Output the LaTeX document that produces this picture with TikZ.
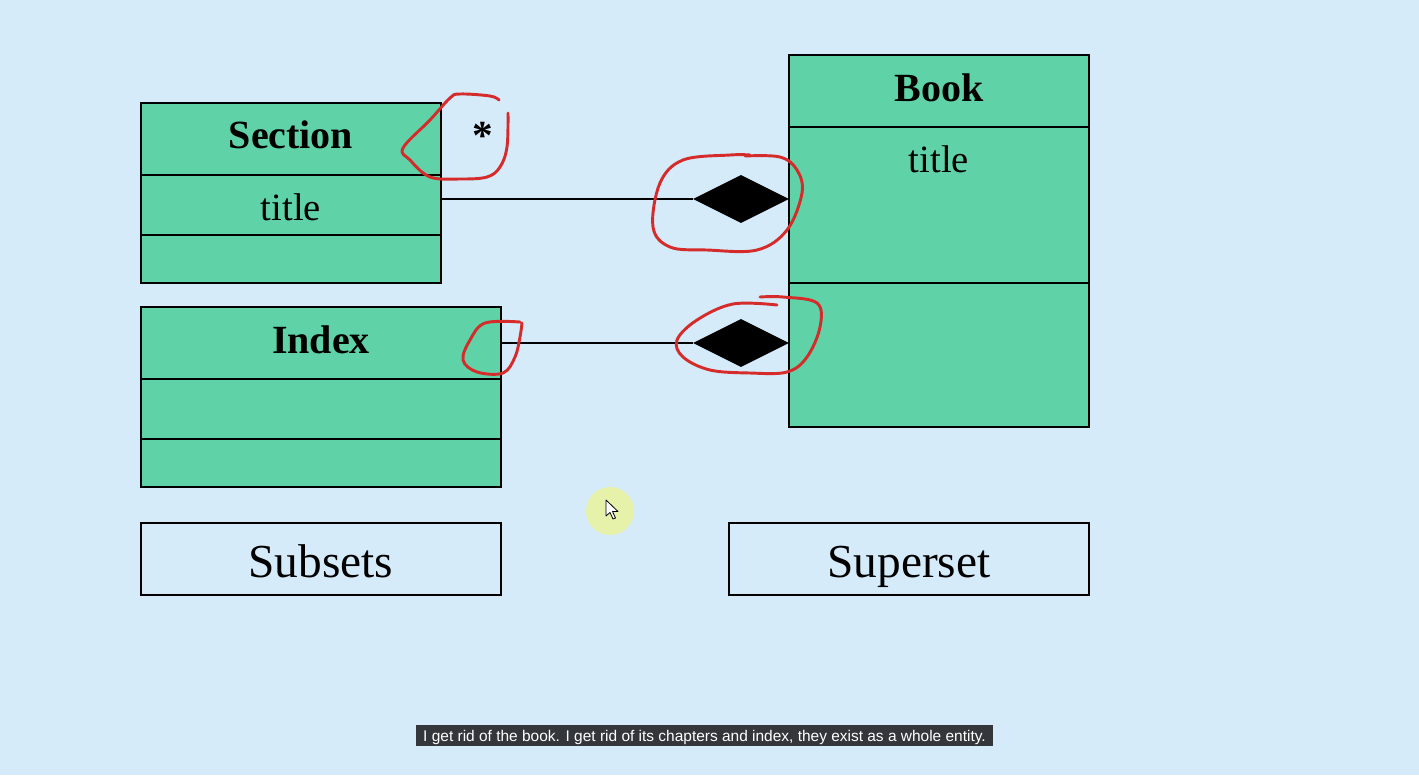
\documentclass[tikz,border=0pt]{standalone}
\usepackage{fontspec}
\setmainfont{Liberation Serif}
\newfontfamily\capfont{Liberation Sans}
\usetikzlibrary{shapes.geometric}
\definecolor{bgblue}{RGB}{214,235,250}
\definecolor{umlgreen}{RGB}{95,211,167}
\definecolor{penred}{RGB}{213,43,43}
\definecolor{capbg}{RGB}{51,54,59}
\definecolor{halo}{RGB}{230,242,170}
\tikzset{
  cls/.style={draw=black, line width=1.5pt, fill=umlgreen, inner sep=0pt},
  plainbox/.style={draw=black, line width=1.5pt, inner sep=0pt},
  divider/.style={draw=black, line width=1.5pt},
  clsname/.style={font=\bfseries\fontsize{30}{36}\selectfont, anchor=base, inner sep=0pt},
  attr/.style={font=\fontsize{29}{34}\selectfont, anchor=base, inner sep=0pt},
  bigtext/.style={font=\fontsize{35.5}{42}\selectfont, anchor=base, inner sep=0pt},
  agg/.style={shape=diamond, aspect=2, fill=black, draw=none, inner sep=0pt, minimum width=72pt, minimum height=36pt},
  assoc/.style={draw=black, line width=1.5pt},
  ink/.style={draw=penred, line width=2.2pt, line cap=round, line join=round},
}
\begin{document}
\begin{tikzpicture}[x=0.75pt, y=-0.75pt]
\useasboundingbox (0,0) rectangle (1419,775);
\fill[bgblue] (0,0) rectangle (1419,775);

% class boxes
\node[cls, minimum width=225pt, minimum height=135pt] (section) at (291,193) {};
\draw[divider] (141,175) -- (441,175);
\draw[divider] (141,235) -- (441,235);
\node[clsname] (sectionname) at (291,148) {Section};
\node[attr] (sectiontitle) at (291,220) {title};

\node[cls, minimum width=270pt, minimum height=135pt] (index) at (321,397) {};
\draw[divider] (141,379) -- (501,379);
\draw[divider] (141,439) -- (501,439);
\node[clsname] (indexname) at (321,353) {Index};

\node[cls, minimum width=225pt, minimum height=279pt] (book) at (939,241) {};
\draw[divider] (789,127) -- (1089,127);
\draw[divider] (789,283) -- (1089,283);
\node[clsname] (bookname) at (939,101) {Book};
\node[attr] (booktitle) at (939,172) {title};

% labels
\node[plainbox, minimum width=270pt, minimum height=54pt] (subsets) at (321,559) {};
\node[bigtext] (subsetstext) at (321,577) {Subsets};
\node[plainbox, minimum width=270pt, minimum height=54pt] (superset) at (909,559) {};
\node[bigtext] (supersettext) at (909,577) {Superset};

% aggregations
\node[agg] (d1) at (741,199) {};
\node[agg] (d2) at (741,343) {};
\draw[assoc] (section.east |- d1.west) -- (d1.west);
\draw[assoc] (index.east |- d2.west) -- (d2.west);

\node[font=\bfseries\fontsize{31}{36}\selectfont, anchor=base, inner sep=0pt] (mult) at (482.5,149) {*};

% red pen annotations
\draw[ink] plot[smooth, tension=0.6] coordinates {(499,100) (490,96) (460,94) (450,98) (430,120) (403,148) (410,160) (430,177) (460,179) (487,177) (500,167) (507,147) (508,113)};
\draw[ink] plot[smooth, tension=0.6] coordinates {(750,155) (730,155) (683,160) (660,183) (653,227) (670,247) (707,250) (757,250) (787,230) (802,193) (797,170) (780,157) (745,156)};
\draw[ink] plot[smooth, tension=0.6] coordinates {(520,322) (485,323) (470,340) (463,360) (477,372) (503,373) (515,357) (520,337) (522,323)};
\draw[ink] plot[smooth, tension=0.6] coordinates {(777,305) (733,304) (697,320) (677,340) (683,357) (710,370) (750,373) (787,372) (807,357) (820,327) (817,303) (783,297) (760,297)};

% cursor
\fill[halo] (610,511) circle[radius=18pt];
\draw[fill=white, draw=black, line width=0.6pt, line join=round] (606,500) -- (606,516) -- (610,512.5) -- (613,519) -- (615.5,518) -- (612.5,511.5) -- (618,511.5) -- cycle;

% caption
\fill[capbg] (416,725) rectangle (993,746);
\node[text=white, inner sep=0pt, anchor=base, font=\capfont\fontsize{11.6}{13}\selectfont] (caption) at (704.5,741) {I get rid of the book. I get rid of its chapters and index, they exist as a whole entity.};
\end{tikzpicture}
\end{document}
